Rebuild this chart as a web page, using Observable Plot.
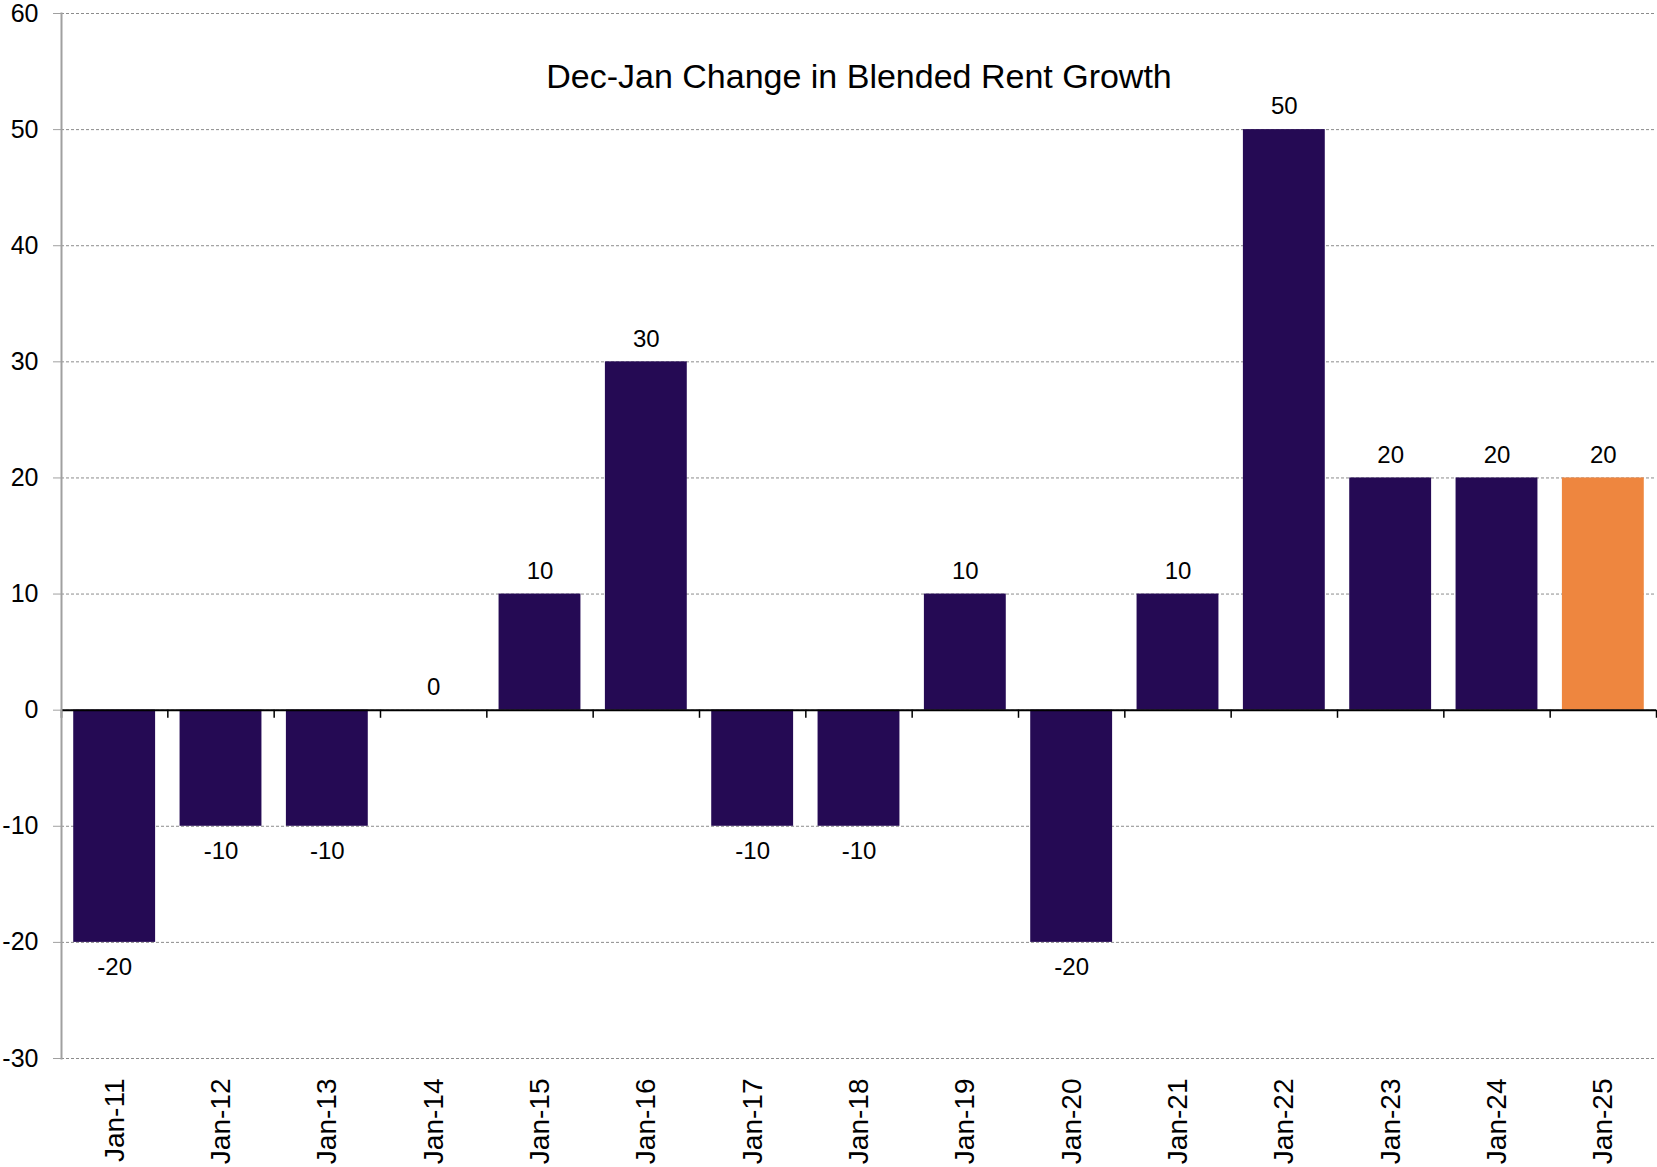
<!DOCTYPE html>
<html>
<head>
<meta charset="utf-8">
<script src="https://cdn.jsdelivr.net/npm/d3@7"></script>
<script src="https://cdn.jsdelivr.net/npm/@observablehq/plot@0.6"></script>
<style>
  html, body { margin: 0; padding: 0; background: white; }
</style>
</head>
<body>
<div id="chart"></div>
<script>
const title = "Dec-Jan Change in Blended Rent Growth";
const categories = ["Jan-11","Jan-12","Jan-13","Jan-14","Jan-15","Jan-16","Jan-17","Jan-18","Jan-19","Jan-20","Jan-21","Jan-22","Jan-23","Jan-24","Jan-25"];
const values = [-20, -10, -10, 0, 10, 30, -10, -10, 10, -20, 10, 50, 20, 20, 20];
const highlight = "Jan-25";
const yTicks = [-30, -20, -10, 0, 10, 20, 30, 40, 50, 60];

const data = categories.map((c, i) => ({cat: c, value: values[i]}));

const W = 1657, H = 1167, mL = 61, mR = 1, mT = 13, mB = 109;
const step = (W - mL - mR) / categories.length;

const chart = Plot.plot({
  width: W,
  height: H,
  marginLeft: mL,
  marginRight: mR,
  marginTop: mT,
  marginBottom: mB,
  style: {fontFamily: "'Liberation Sans', Arial, sans-serif", fontSize: "24px", color: "black", background: "white"},
  x: {domain: categories, paddingInner: 0.23, paddingOuter: 0.115, round: false, axis: null},
  y: {domain: [-30, 60], axis: null},
  marks: [
    Plot.gridY(yTicks, {stroke: "#8c8c8c", strokeOpacity: 1, strokeDasharray: "3,2", strokeWidth: 1}),
    Plot.barY(data.filter(d => d.cat !== highlight), {x: "cat", y: "value", fill: "#250A54"}),
    Plot.barY(data.filter(d => d.cat === highlight), {x: "cat", y: "value", fill: "#EE863F"}),
    Plot.ruleY([0], {stroke: "black", strokeWidth: 2}),
    Plot.ruleX(categories, {x: d => d, y1: 0, y2: -0.7, stroke: "black", strokeWidth: 1.5, dx: -step / 2}),
    Plot.ruleX(categories.slice(-1), {x: d => d, y1: 0, y2: -0.7, stroke: "black", strokeWidth: 1.5, dx: step / 2}),
    Plot.frame({anchor: "left", stroke: "#a0a0a0", strokeWidth: 2}),
    Plot.axisY(yTicks, {tickSize: 8, tickPadding: 15, stroke: "#a0a0a0", fill: "black", fontSize: 25, tickFormat: d => String(d), label: null}),
    Plot.axisX(categories, {tickSize: 0, tickPadding: 20, tickRotate: -90, fill: "black", fontSize: 28, label: null}),
    Plot.text(data.filter(d => d.value >= 0), {x: "cat", y: "value", text: d => String(d.value), dy: -23, fontSize: 24, fill: "black"}),
    Plot.text(data.filter(d => d.value < 0), {x: "cat", y: "value", text: d => String(d.value), dy: 25, fontSize: 24, fill: "black"}),
    Plot.text([title], {frameAnchor: "top", lineAnchor: "middle", dy: 64, fontSize: 34, fill: "black"})
  ]
});
document.getElementById("chart").appendChild(chart);
</script>
</body>
</html>
